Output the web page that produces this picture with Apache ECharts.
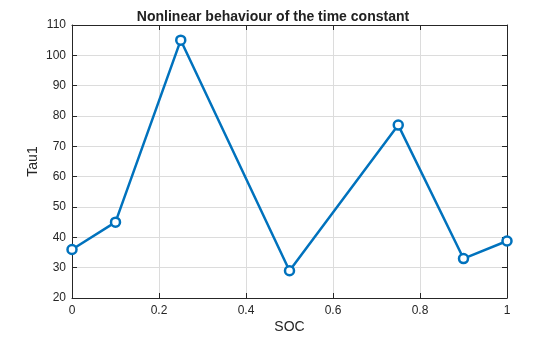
<!DOCTYPE html>
<html><head><meta charset="utf-8">
<script src="https://cdn.jsdelivr.net/npm/echarts@6/dist/echarts.min.js"></script>
<style>html,body{margin:0;padding:0;background:#fff}#c{width:560px;height:337px}</style>
</head><body><div id="c"></div>
<script>
const socValues = [0, 0.1, 0.25, 0.5, 0.75, 0.9, 1];
const tauValues = [36, 45, 105, 29, 77, 33, 38.8];
const xTicks = [0, 0.2, 0.4, 0.6, 0.8, 1];
const yTicks = [20, 30, 40, 50, 60, 70, 80, 90, 100, 110];

const chart = echarts.init(document.getElementById('c'), null, {renderer: 'canvas'});
const font = 'Arial, "Liberation Sans", Helvetica, sans-serif';
const axisLineStyle = {show: true, onZero: false, lineStyle: {color: '#262626', width: 1}};
const tickStyle = {show: true, inside: true, length: 5, lineStyle: {color: '#262626'}};
chart.setOption({
  animation: false,
  title: {text: 'Nonlinear behaviour of the time constant', left: 268, textAlign: 'center', top: 5,
    textStyle: {fontFamily: font, fontSize: 14, fontWeight: 'bold', color: '#212121'}},
  grid: {left: 72, right: 53, top: 25, bottom: 39, containLabel: false, outerBoundsMode: 'none'},
  xAxis: [{
    type: 'value', min: 0, max: 1, interval: 0.2, position: 'bottom',
    name: 'SOC', nameLocation: 'middle', nameGap: 22, nameMoveOverlap: false,
    nameTextStyle: {fontFamily: font, fontSize: 14, color: '#262626'},
    axisLabel: {fontFamily: font, fontSize: 12, color: '#262626', margin: 7,
      formatter: v => { const r = Math.round(v*10)/10; return xTicks.includes(r) ? String(r) : ''; }},
    splitLine: {show: true, lineStyle: {color: '#dcdcdc', width: 1}},
    axisLine: axisLineStyle, axisTick: tickStyle
  }, {
    type: 'value', min: 0, max: 1, interval: 0.2, position: 'top',
    axisLabel: {show: false}, splitLine: {show: false},
    axisLine: axisLineStyle, axisTick: tickStyle
  }],
  yAxis: [{
    type: 'value', min: 20, max: 110, interval: 10, position: 'left',
    name: 'Tau1', nameLocation: 'middle', nameGap: 32, nameMoveOverlap: false,
    nameTextStyle: {fontFamily: font, fontSize: 14, color: '#262626'},
    axisLabel: {fontFamily: font, fontSize: 12, color: '#262626', margin: 6,
      formatter: v => yTicks.includes(Math.round(v)) ? String(Math.round(v)) : ''},
    splitLine: {show: true, lineStyle: {color: '#dcdcdc', width: 1}},
    axisLine: axisLineStyle, axisTick: tickStyle
  }, {
    type: 'value', min: 20, max: 110, interval: 10, position: 'right',
    axisLabel: {show: false}, splitLine: {show: false},
    axisLine: axisLineStyle, axisTick: tickStyle
  }],
  series: [{
    type: 'line',
    data: socValues.map((x, i) => [x, tauValues[i]]),
    lineStyle: {color: '#0072BD', width: 2.5},
    symbol: 'circle', symbolSize: 9,
    itemStyle: {color: '#ffffff', borderColor: '#0072BD', borderWidth: 2.5},
    clip: false
  }]
});
</script></body></html>
